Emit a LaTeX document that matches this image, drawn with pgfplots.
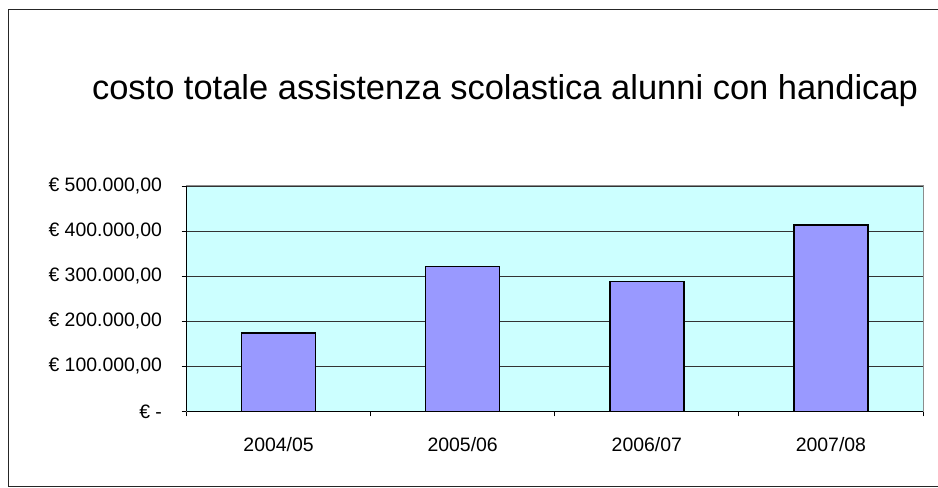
\documentclass[border=0pt]{standalone}
\usepackage{pgfplots}
\pgfplotsset{compat=1.18}
\usepackage{fontspec}
\setmainfont{Liberation Sans}
\definecolor{barfill}{HTML}{9999FF}
\definecolor{plotbg}{HTML}{CCFFFF}
\begin{document}
\begin{tikzpicture}[x=1bp,y=1bp]
\useasboundingbox (0,0) rectangle (938,488);
\fill[white] (0,0) rectangle (938,488);
\draw[line width=1bp, black!85] (8.5,1) rectangle (950,478);
\node[anchor=base, font=\fontsize{34.6}{40}\selectfont] at (505,388) {costo totale assistenza scolastica alunni con handicap};
\begin{axis}[
  at={(186.5bp,76.5bp)}, anchor=south west,
  scale only axis, width=736.5bp, height=225.5bp,
  xmin=0.5, xmax=4.5, ymin=0, ymax=500000,
  axis background/.style={fill=plotbg},
  axis line style={draw=gray!90, line width=1bp},
  ybar, bar width=74bp, bar shift=0pt,
  xtick={1,2,3,4},
  xticklabels={2004/05,2005/06,2006/07,2007/08},
  minor xtick={0.5,1.5,2.5,3.5,4.5},
  ytick={0,100000,200000,300000,400000,500000},
  yticklabels={{€ -},{€ 100.000,00},{€ 200.000,00},{€ 300.000,00},{€ 400.000,00},{€ 500.000,00}},
  xtick pos=bottom, ytick pos=left,
  tick align=outside,
  major tick length=5bp, minor tick length=5bp,
  major x tick style={draw=none},
  minor x tick style={black, line width=0.8bp},
  major y tick style={black, line width=0.8bp},
  ymajorgrids, grid style={black!80, line width=0.8bp},
  tick label style={font=\fontsize{19.5}{23}\selectfont},
  yticklabel style={xshift=-16bp},
  xticklabel style={yshift=-17bp},
  scaled y ticks=false,
  clip=false,
]
\addplot[ybar, fill=barfill, draw=black, line width=1.5bp] coordinates {(1,174000) (2,321000) (3,288000) (4,413000)};
\draw[black, line width=1bp] (rel axis cs:0,0) -- (rel axis cs:1,0);
\draw[black, line width=1bp] (rel axis cs:0,0) -- (rel axis cs:0,1);
\end{axis}
\end{tikzpicture}
\end{document}
